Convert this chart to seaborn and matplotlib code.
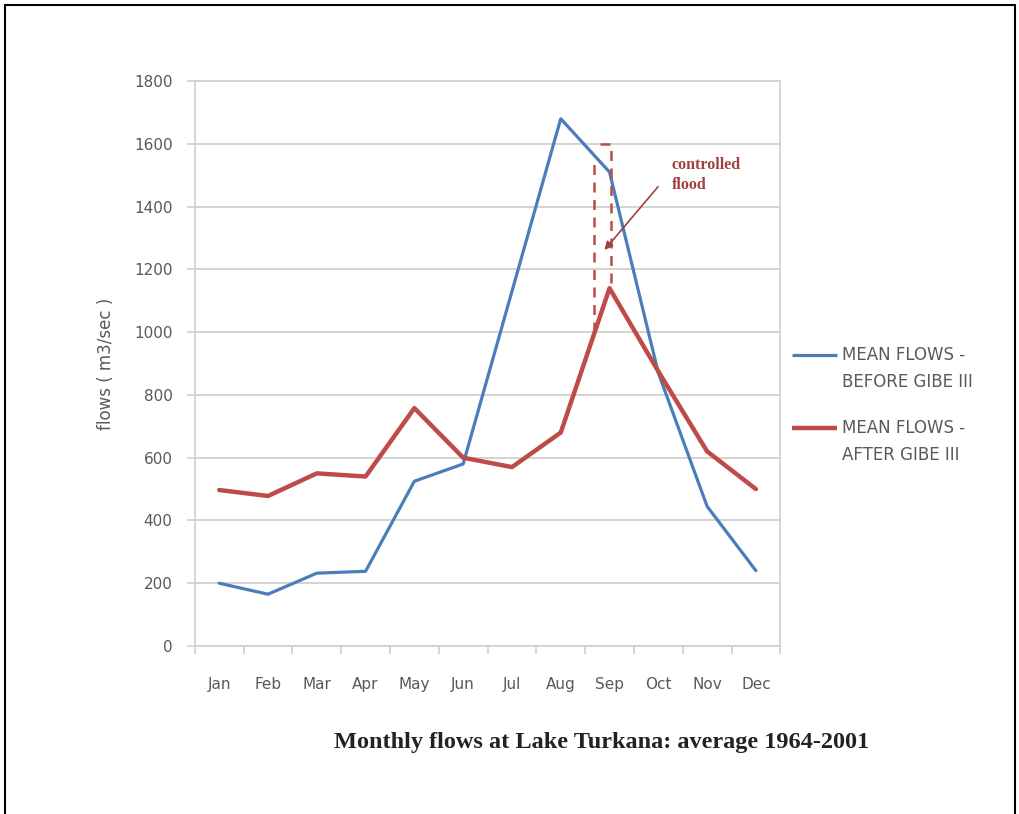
import matplotlib
matplotlib.use("Agg")
import matplotlib.pyplot as plt
from matplotlib.patches import Rectangle
from matplotlib.lines import Line2D
import numpy as np
import pandas as pd
import seaborn as sns

months = ["Jan", "Feb", "Mar", "Apr", "May", "Jun",
          "Jul", "Aug", "Sep", "Oct", "Nov", "Dec"]
flows_before = [200, 165, 232, 238, 525, 580, 1130, 1680, 1510, 870, 445, 240]
flows_after = [497, 478, 550, 540, 758, 600, 570, 680, 1140, 875, 620, 500]
series_names = ["MEAN FLOWS -\nBEFORE GIBE III", "MEAN FLOWS -\nAFTER GIBE III"]
y_ticks = [0, 200, 400, 600, 800, 1000, 1200, 1400, 1600, 1800]

BLUE = "#4A7EBB"
RED = "#BE4B48"
GRID = "#D0D0D0"
TEXT = "#595959"
W, H = 1020, 814

df = pd.DataFrame({
    "pos": list(range(len(months))) * 2,
    "flow": flows_before + flows_after,
    "series": [series_names[0]] * len(months) + [series_names[1]] * len(months),
})

sns.set_theme(style="white")
plt.rcParams["font.family"] = ["DejaVu Sans"]

fig = plt.figure(figsize=(W / 100, H / 100), dpi=100)
ax = fig.add_axes([0.191, 0.2064, 0.574, 0.694])

sns.lineplot(data=df, x="pos", y="flow", hue="series", sort=False,
             palette=[BLUE, RED], ax=ax, legend=False)
widths = [2.3, 3.2]
for line, lw in zip(ax.lines, widths):
    line.set_linewidth(lw)

ax.set_xlim(-0.5, len(months) - 0.5)
ax.set_ylim(0, 1800)
ax.set_yticks(y_ticks)
ax.set_yticklabels([str(v) for v in y_ticks], fontsize=11, color=TEXT)
ax.set_xticks(range(len(months)))
ax.set_xticklabels(months, fontsize=11, color=TEXT)
ax.set_xticks(np.arange(-0.5, len(months), 1.0), minor=True)
ax.tick_params(axis="x", which="major", bottom=True, length=0, pad=22)
ax.tick_params(axis="x", which="minor", bottom=True, length=6, color=GRID,
               width=1.2, direction="out")
ax.tick_params(axis="y", left=True, length=6, color=GRID, width=1.2,
               direction="out", pad=10)
ax.grid(axis="y", color=GRID, linewidth=1.3)
ax.set_axisbelow(True)
for sp in ax.spines.values():
    sp.set_color(GRID)
    sp.set_linewidth(1.2)
ax.set_xlabel("")
ax.set_ylabel("flows ( m3/sec )", fontsize=12, color=TEXT, labelpad=14)

# controlled flood marker: dashed bracket around the September peak
ax.plot([7.69, 7.69], [1000, 1540], linestyle=(0, (4, 3)), color=RED, lw=1.8)
ax.plot([7.8, 8.04, 8.04], [1600, 1600, 1140], linestyle=(0, (4, 3)), color=RED, lw=1.8)
ax.annotate("", xy=(7.86, 1255), xytext=(9.03, 1470),
            arrowprops=dict(arrowstyle="-|>", color="#A0413F", lw=1.2,
                            mutation_scale=12))
ax.text(9.27, 1500, "controlled\nflood", fontsize=11.5, color="#A0413F",
        family="Liberation Serif", fontweight="bold", va="center", ha="left",
        linespacing=1.3)

# legend on the right: handle level with the first text line
legend_rows = [355, 428]
for name, color, lw, row in zip(series_names, [BLUE, RED], widths, legend_rows):
    fig.add_artist(Line2D([792 / W, 837 / W], [1 - row / H, 1 - row / H],
                          color=color, lw=lw, solid_capstyle="butt"))
    fig.text(842 / W, 1 - (row - 9) / H, name, fontsize=12, color=TEXT,
             ha="left", va="top", linespacing=1.62)

fig.text(0.59, 0.088, "Monthly flows at Lake Turkana: average 1964-2001",
         family="Liberation Serif", fontweight="bold", fontsize=17.5,
         ha="center", va="center", color="#222222")

fig.patches.append(Rectangle((0.005, -0.01), 0.99, 1.004, transform=fig.transFigure,
                             fill=False, edgecolor="black", lw=1.5))

fig.savefig("out.png", dpi=100)
